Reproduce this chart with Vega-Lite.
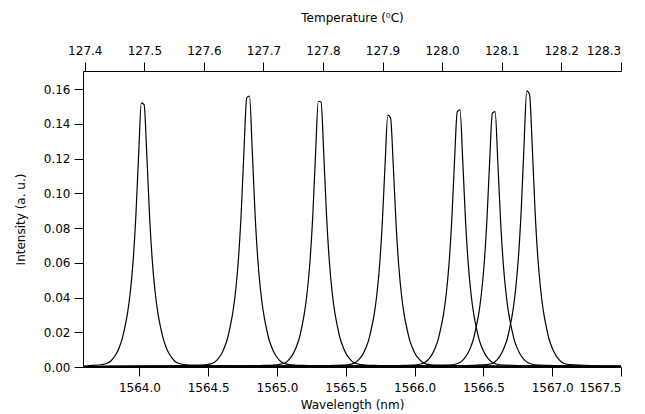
{
  "$schema": "https://vega.github.io/schema/vega-lite/v6.json",
  "width": 538,
  "height": 296,
  "autosize": {"type": "none"},
  "padding": {"left": 83, "top": 71, "right": 24, "bottom": 47},
  "background": "white",
  "config": {
    "view": {"stroke": null},
    "font": "DejaVu Sans",
    "axis": {
      "domainColor": "black", "tickColor": "black", "labelColor": "black", "titleColor": "black",
      "labelFontSize": 12, "titleFontSize": 12, "titleFontWeight": "normal", "grid": false,
      "tickSize": 9, "domainWidth": 1, "tickWidth": 1, "labelFont": "DejaVu Sans", "titleFont": "DejaVu Sans"
    }
  },
  "layer": [
    {
      "data": {"values": [
        {"p":1,"w":1563.59,"i":0.0004},{"p":1,"w":1563.624,"i":0.0007},{"p":1,"w":1563.724,"i":0.0013},{"p":1,"w":1563.774,"i":0.0024},{"p":1,"w":1563.794,"i":0.0036},{"p":1,"w":1563.814,"i":0.0055},{"p":1,"w":1563.834,"i":0.0079},{"p":1,"w":1563.854,"i":0.0114},{"p":1,"w":1563.874,"i":0.0160},{"p":1,"w":1563.894,"i":0.0228},{"p":1,"w":1563.914,"i":0.0312},{"p":1,"w":1563.934,"i":0.0433},{"p":1,"w":1563.954,"i":0.0608},{"p":1,"w":1563.974,"i":0.0866},{"p":1,"w":1563.994,"i":0.1216},{"p":1,"w":1564.014,"i":0.1520},{"p":1,"w":1564.034,"i":0.1510},{"p":1,"w":1564.054,"i":0.1216},{"p":1,"w":1564.074,"i":0.0866},{"p":1,"w":1564.094,"i":0.0608},{"p":1,"w":1564.114,"i":0.0433},{"p":1,"w":1564.134,"i":0.0312},{"p":1,"w":1564.154,"i":0.0228},{"p":1,"w":1564.174,"i":0.0160},{"p":1,"w":1564.194,"i":0.0114},{"p":1,"w":1564.214,"i":0.0079},{"p":1,"w":1564.234,"i":0.0055},{"p":1,"w":1564.254,"i":0.0036},{"p":1,"w":1564.274,"i":0.0024},{"p":1,"w":1564.324,"i":0.0014},{"p":1,"w":1564.424,"i":0.0009},{"p":1,"w":1564.624,"i":0.0006},{"p":1,"w":1565.024,"i":0.0005},{"p":1,"w":1566.0,"i":0.0003},{"p":1,"w":1567.5,"i":0.0003},

        {"p":2,"w":1563.59,"i":0.0003},{"p":2,"w":1563.79,"i":0.0005},{"p":2,"w":1564.19,"i":0.0006},{"p":2,"w":1564.39,"i":0.0009},{"p":2,"w":1564.49,"i":0.0014},{"p":2,"w":1564.54,"i":0.0025},{"p":2,"w":1564.56,"i":0.0037},{"p":2,"w":1564.58,"i":0.0056},{"p":2,"w":1564.60,"i":0.0081},{"p":2,"w":1564.62,"i":0.0117},{"p":2,"w":1564.64,"i":0.0164},{"p":2,"w":1564.66,"i":0.0234},{"p":2,"w":1564.68,"i":0.0320},{"p":2,"w":1564.70,"i":0.0445},{"p":2,"w":1564.72,"i":0.0624},{"p":2,"w":1564.74,"i":0.0889},{"p":2,"w":1564.76,"i":0.1248},{"p":2,"w":1564.78,"i":0.1550},{"p":2,"w":1564.80,"i":0.1560},{"p":2,"w":1564.82,"i":0.1248},{"p":2,"w":1564.84,"i":0.0889},{"p":2,"w":1564.86,"i":0.0624},{"p":2,"w":1564.88,"i":0.0445},{"p":2,"w":1564.90,"i":0.0320},{"p":2,"w":1564.92,"i":0.0234},{"p":2,"w":1564.94,"i":0.0164},{"p":2,"w":1564.96,"i":0.0117},{"p":2,"w":1564.98,"i":0.0081},{"p":2,"w":1565.00,"i":0.0056},{"p":2,"w":1565.02,"i":0.0037},{"p":2,"w":1565.04,"i":0.0025},{"p":2,"w":1565.09,"i":0.0014},{"p":2,"w":1565.19,"i":0.0009},{"p":2,"w":1565.39,"i":0.0006},{"p":2,"w":1565.79,"i":0.0005},{"p":2,"w":1567.5,"i":0.0003},

        {"p":3,"w":1563.59,"i":0.0003},{"p":3,"w":1564.31,"i":0.0005},{"p":3,"w":1564.71,"i":0.0006},{"p":3,"w":1564.91,"i":0.0009},{"p":3,"w":1565.01,"i":0.0014},{"p":3,"w":1565.06,"i":0.0024},{"p":3,"w":1565.08,"i":0.0037},{"p":3,"w":1565.10,"i":0.0055},{"p":3,"w":1565.12,"i":0.0080},{"p":3,"w":1565.14,"i":0.0115},{"p":3,"w":1565.16,"i":0.0161},{"p":3,"w":1565.18,"i":0.0230},{"p":3,"w":1565.20,"i":0.0314},{"p":3,"w":1565.22,"i":0.0436},{"p":3,"w":1565.24,"i":0.0612},{"p":3,"w":1565.26,"i":0.0872},{"p":3,"w":1565.28,"i":0.1224},{"p":3,"w":1565.30,"i":0.1530},{"p":3,"w":1565.32,"i":0.1525},{"p":3,"w":1565.34,"i":0.1224},{"p":3,"w":1565.36,"i":0.0872},{"p":3,"w":1565.38,"i":0.0612},{"p":3,"w":1565.40,"i":0.0436},{"p":3,"w":1565.42,"i":0.0314},{"p":3,"w":1565.44,"i":0.0230},{"p":3,"w":1565.46,"i":0.0161},{"p":3,"w":1565.48,"i":0.0115},{"p":3,"w":1565.50,"i":0.0080},{"p":3,"w":1565.52,"i":0.0055},{"p":3,"w":1565.54,"i":0.0037},{"p":3,"w":1565.56,"i":0.0024},{"p":3,"w":1565.61,"i":0.0014},{"p":3,"w":1565.71,"i":0.0009},{"p":3,"w":1565.91,"i":0.0006},{"p":3,"w":1566.31,"i":0.0005},{"p":3,"w":1567.5,"i":0.0003},

        {"p":4,"w":1563.59,"i":0.0003},{"p":4,"w":1564.815,"i":0.0004},{"p":4,"w":1565.215,"i":0.0006},{"p":4,"w":1565.415,"i":0.0009},{"p":4,"w":1565.515,"i":0.0013},{"p":4,"w":1565.565,"i":0.0023},{"p":4,"w":1565.585,"i":0.0035},{"p":4,"w":1565.605,"i":0.0052},{"p":4,"w":1565.625,"i":0.0075},{"p":4,"w":1565.645,"i":0.0109},{"p":4,"w":1565.665,"i":0.0152},{"p":4,"w":1565.685,"i":0.0218},{"p":4,"w":1565.705,"i":0.0297},{"p":4,"w":1565.725,"i":0.0413},{"p":4,"w":1565.745,"i":0.0580},{"p":4,"w":1565.765,"i":0.0827},{"p":4,"w":1565.785,"i":0.1160},{"p":4,"w":1565.805,"i":0.1450},{"p":4,"w":1565.825,"i":0.1435},{"p":4,"w":1565.845,"i":0.1160},{"p":4,"w":1565.865,"i":0.0827},{"p":4,"w":1565.885,"i":0.0580},{"p":4,"w":1565.905,"i":0.0413},{"p":4,"w":1565.925,"i":0.0297},{"p":4,"w":1565.945,"i":0.0218},{"p":4,"w":1565.965,"i":0.0152},{"p":4,"w":1565.985,"i":0.0109},{"p":4,"w":1566.005,"i":0.0075},{"p":4,"w":1566.025,"i":0.0052},{"p":4,"w":1566.045,"i":0.0035},{"p":4,"w":1566.065,"i":0.0023},{"p":4,"w":1566.115,"i":0.0013},{"p":4,"w":1566.215,"i":0.0009},{"p":4,"w":1566.415,"i":0.0006},{"p":4,"w":1566.815,"i":0.0004},{"p":4,"w":1567.5,"i":0.0003},

        {"p":5,"w":1563.59,"i":0.0003},{"p":5,"w":1565.32,"i":0.0004},{"p":5,"w":1565.72,"i":0.0006},{"p":5,"w":1565.92,"i":0.0009},{"p":5,"w":1566.02,"i":0.0013},{"p":5,"w":1566.07,"i":0.0024},{"p":5,"w":1566.09,"i":0.0036},{"p":5,"w":1566.11,"i":0.0053},{"p":5,"w":1566.13,"i":0.0077},{"p":5,"w":1566.15,"i":0.0111},{"p":5,"w":1566.17,"i":0.0155},{"p":5,"w":1566.19,"i":0.0222},{"p":5,"w":1566.21,"i":0.0303},{"p":5,"w":1566.23,"i":0.0422},{"p":5,"w":1566.25,"i":0.0592},{"p":5,"w":1566.27,"i":0.0844},{"p":5,"w":1566.29,"i":0.1184},{"p":5,"w":1566.31,"i":0.1470},{"p":5,"w":1566.33,"i":0.1480},{"p":5,"w":1566.35,"i":0.1184},{"p":5,"w":1566.37,"i":0.0844},{"p":5,"w":1566.39,"i":0.0592},{"p":5,"w":1566.41,"i":0.0422},{"p":5,"w":1566.43,"i":0.0303},{"p":5,"w":1566.45,"i":0.0222},{"p":5,"w":1566.47,"i":0.0155},{"p":5,"w":1566.49,"i":0.0111},{"p":5,"w":1566.51,"i":0.0077},{"p":5,"w":1566.53,"i":0.0053},{"p":5,"w":1566.55,"i":0.0036},{"p":5,"w":1566.57,"i":0.0024},{"p":5,"w":1566.62,"i":0.0013},{"p":5,"w":1566.72,"i":0.0009},{"p":5,"w":1566.92,"i":0.0006},{"p":5,"w":1567.32,"i":0.0004},{"p":5,"w":1567.5,"i":0.0003},

        {"p":6,"w":1563.59,"i":0.0003},{"p":6,"w":1565.575,"i":0.0004},{"p":6,"w":1565.975,"i":0.0006},{"p":6,"w":1566.175,"i":0.0009},{"p":6,"w":1566.275,"i":0.0013},{"p":6,"w":1566.325,"i":0.0024},{"p":6,"w":1566.345,"i":0.0035},{"p":6,"w":1566.365,"i":0.0053},{"p":6,"w":1566.385,"i":0.0076},{"p":6,"w":1566.405,"i":0.0110},{"p":6,"w":1566.425,"i":0.0154},{"p":6,"w":1566.445,"i":0.0221},{"p":6,"w":1566.465,"i":0.0301},{"p":6,"w":1566.485,"i":0.0419},{"p":6,"w":1566.505,"i":0.0588},{"p":6,"w":1566.525,"i":0.0838},{"p":6,"w":1566.545,"i":0.1176},{"p":6,"w":1566.565,"i":0.1460},{"p":6,"w":1566.585,"i":0.1470},{"p":6,"w":1566.605,"i":0.1176},{"p":6,"w":1566.625,"i":0.0838},{"p":6,"w":1566.645,"i":0.0588},{"p":6,"w":1566.665,"i":0.0419},{"p":6,"w":1566.685,"i":0.0301},{"p":6,"w":1566.705,"i":0.0221},{"p":6,"w":1566.725,"i":0.0154},{"p":6,"w":1566.745,"i":0.0110},{"p":6,"w":1566.765,"i":0.0076},{"p":6,"w":1566.785,"i":0.0053},{"p":6,"w":1566.805,"i":0.0035},{"p":6,"w":1566.825,"i":0.0024},{"p":6,"w":1566.875,"i":0.0013},{"p":6,"w":1566.975,"i":0.0009},{"p":6,"w":1567.175,"i":0.0006},{"p":6,"w":1567.5,"i":0.0004},

        {"p":7,"w":1563.59,"i":0.0003},{"p":7,"w":1565.825,"i":0.0005},{"p":7,"w":1566.225,"i":0.0006},{"p":7,"w":1566.425,"i":0.0010},{"p":7,"w":1566.525,"i":0.0014},{"p":7,"w":1566.575,"i":0.0025},{"p":7,"w":1566.595,"i":0.0038},{"p":7,"w":1566.615,"i":0.0057},{"p":7,"w":1566.635,"i":0.0083},{"p":7,"w":1566.655,"i":0.0119},{"p":7,"w":1566.675,"i":0.0167},{"p":7,"w":1566.695,"i":0.0239},{"p":7,"w":1566.715,"i":0.0326},{"p":7,"w":1566.735,"i":0.0453},{"p":7,"w":1566.755,"i":0.0636},{"p":7,"w":1566.775,"i":0.0906},{"p":7,"w":1566.795,"i":0.1272},{"p":7,"w":1566.815,"i":0.1590},{"p":7,"w":1566.835,"i":0.1570},{"p":7,"w":1566.855,"i":0.1272},{"p":7,"w":1566.875,"i":0.0906},{"p":7,"w":1566.895,"i":0.0636},{"p":7,"w":1566.915,"i":0.0453},{"p":7,"w":1566.935,"i":0.0326},{"p":7,"w":1566.955,"i":0.0239},{"p":7,"w":1566.975,"i":0.0167},{"p":7,"w":1566.995,"i":0.0119},{"p":7,"w":1567.015,"i":0.0083},{"p":7,"w":1567.035,"i":0.0057},{"p":7,"w":1567.055,"i":0.0038},{"p":7,"w":1567.075,"i":0.0025},{"p":7,"w":1567.125,"i":0.0014},{"p":7,"w":1567.225,"i":0.0010},{"p":7,"w":1567.425,"i":0.0006},{"p":7,"w":1567.5,"i":0.0006}
      ]},
      "mark": {"type": "line", "color": "black", "strokeWidth": 1.2, "interpolate": "monotone", "clip": true},
      "encoding": {
        "x": {
          "field": "w", "type": "quantitative",
          "scale": {"domain": [1563.59, 1567.5], "nice": false, "zero": false},
          "axis": {"orient": "bottom", "values": [1564.0, 1564.5, 1565.0, 1565.5, 1566.0, 1566.5, 1567.0, 1567.5], "format": ".1f", "title": "Wavelength (nm)", "labelPadding": 6, "titlePadding": 6}
        },
        "y": {
          "field": "i", "type": "quantitative",
          "scale": {"domain": [0, 0.1704], "nice": false},
          "axis": {"values": [0, 0.02, 0.04, 0.06, 0.08, 0.1, 0.12, 0.14, 0.16], "format": ".2f", "title": "Intensity (a. u.)", "labelPadding": 4, "titlePadding": 16}
        },
        "detail": {"field": "p"}
      }
    },
    {
      "data": {"values": [{"t": 127.4}, {"t": 128.3}]},
      "mark": {"type": "point", "opacity": 0},
      "encoding": {
        "x": {
          "field": "t", "type": "quantitative",
          "scale": {"domain": [127.397, 128.3005], "nice": false, "zero": false},
          "axis": {"orient": "top", "values": [127.4, 127.5, 127.6, 127.7, 127.8, 127.9, 128.0, 128.1, 128.2, 128.3], "format": ".1f", "title": "Temperature (⁰C)", "labelPadding": 5, "titlePadding": 20}
        }
      }
    }
  ],
  "resolve": {"scale": {"x": "independent"}, "axis": {"x": "independent"}}
}
